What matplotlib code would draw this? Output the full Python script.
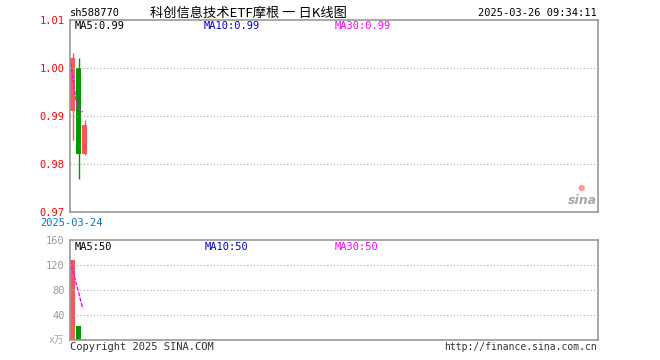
import matplotlib
matplotlib.use("Agg")
import matplotlib.pyplot as plt

plt.rcParams['font.family'] = ['DejaVu Sans Mono', 'Noto Sans CJK SC']

# daily candles (only 3 on the chart)
opens = [0.9911, 1.0000, 0.9821]
closes = [1.0021, 0.9821, 0.9881]
highs = [1.0032, 1.0021, 0.9892]
lows = [0.9851, 0.9769, 0.9819]
ma5_x = [-0.4, 0.0, 0.6, 0.8, 1.7]
ma5_vals = [1.0021, 0.9983, 0.9931, 0.9920, 0.9908]

volumes = [128, 22, 2]
vol_ma_x = [-0.4, 1.7]
vol_ma_vals = [128, 50]

price_ticks = [0.97, 0.98, 0.99, 1.00, 1.01]
vol_ticks = [40, 80, 120, 160]

RED = '#ff5555'
GREEN = '#009900'
FRAME = '#999999'

fig = plt.figure(figsize=(6.6, 3.6), dpi=100)
ax = fig.add_axes([70/660, 1-212/360, 528/660, 192/360])
axv = fig.add_axes([70/660, 1-340/360, 528/660, 100/360])

for a in (ax, axv):
    a.set_xlim(-0.42, 87.58)
    for s in a.spines.values():
        s.set_color(FRAME)
        s.set_linewidth(1.2)
    a.set_xticks([])
    a.tick_params(axis='y', length=0, pad=4)

# candles
for i in range(len(opens)):
    c = RED if closes[i] >= opens[i] else GREEN
    ax.vlines(i, lows[i], highs[i], color=c, lw=1)
    ax.bar(i, abs(closes[i]-opens[i]), bottom=min(opens[i], closes[i]), width=0.88, color=c)
ax.plot(ma5_x, ma5_vals, color='#ff00ff', lw=1, ls='--', dashes=(3, 1))
ax.set_ylim(0.97, 1.01)
ax.set_yticks(price_ticks)
ax.set_yticklabels(['%.2f' % v for v in price_ticks], color='red', fontsize=7.5)
for v in price_ticks[1:-1]:
    ax.axhline(v, color='#aaaaaa', lw=0.8, ls=(0, (1, 2)))

# volume
for i in range(len(volumes)):
    c = RED if closes[i] >= opens[i] else GREEN
    axv.bar(i, volumes[i], width=0.88, color=c)
axv.plot(vol_ma_x, vol_ma_vals, color='#ff00ff', lw=1, ls='--', dashes=(3, 1))
axv.set_ylim(0, 160)
axv.set_yticks(vol_ticks)
axv.set_yticklabels([str(v) for v in vol_ticks], color='#999999', fontsize=7.5)
for v in vol_ticks[:-1]:
    axv.axhline(v, color='#aaaaaa', lw=0.8, ls=(0, (1, 2)))

# texts
def px(x, y, s, **kw):
    fig.text(x/660, 1-y/360, s, **kw)

px(70, 13, 'sh588770', fontsize=7.5, va='center')
px(150, 13, '科创信息技术ETF摩根 一 日K线图', fontsize=9.5, va='center',
   family=['Noto Sans CJK SC', 'DejaVu Sans'])
px(597, 13, '2025-03-26 09:34:11', fontsize=7.5, va='center', ha='right')
px(75, 26, 'MA5:0.99', fontsize=7.5, va='center', color='black')
px(204, 26, 'MA10:0.99', fontsize=7.5, va='center', color='#0000cc')
px(335, 26, 'MA30:0.99', fontsize=7.5, va='center', color='#ff00ff')
px(40, 223, '2025-03-24', fontsize=7.5, va='center', color='#0077cc')
px(75, 247, 'MA5:50', fontsize=7.5, va='center', color='black')
px(205, 247, 'MA10:50', fontsize=7.5, va='center', color='#0000cc')
px(335, 247, 'MA30:50', fontsize=7.5, va='center', color='#ff00ff')
px(49, 340, 'x万', fontsize=7, va='center', color='#aaaaaa',
   family=['DejaVu Sans', 'Noto Sans CJK SC'])
px(70, 347, 'Copyright 2025 SINA.COM', fontsize=7.5, va='center', color='#333333')
px(597, 347, 'http://finance.sina.com.cn', fontsize=7, va='center', ha='right', color='#333333')
px(597, 201, 'sina', fontsize=9, va='center', ha='right', color='#aaaaaa',
   style='italic', weight='bold', family='DejaVu Sans')
px(581, 187, '●', fontsize=6, va='center', ha='center', color='#ff9999',
   family='DejaVu Sans')

fig.savefig('out.png', dpi=100)
